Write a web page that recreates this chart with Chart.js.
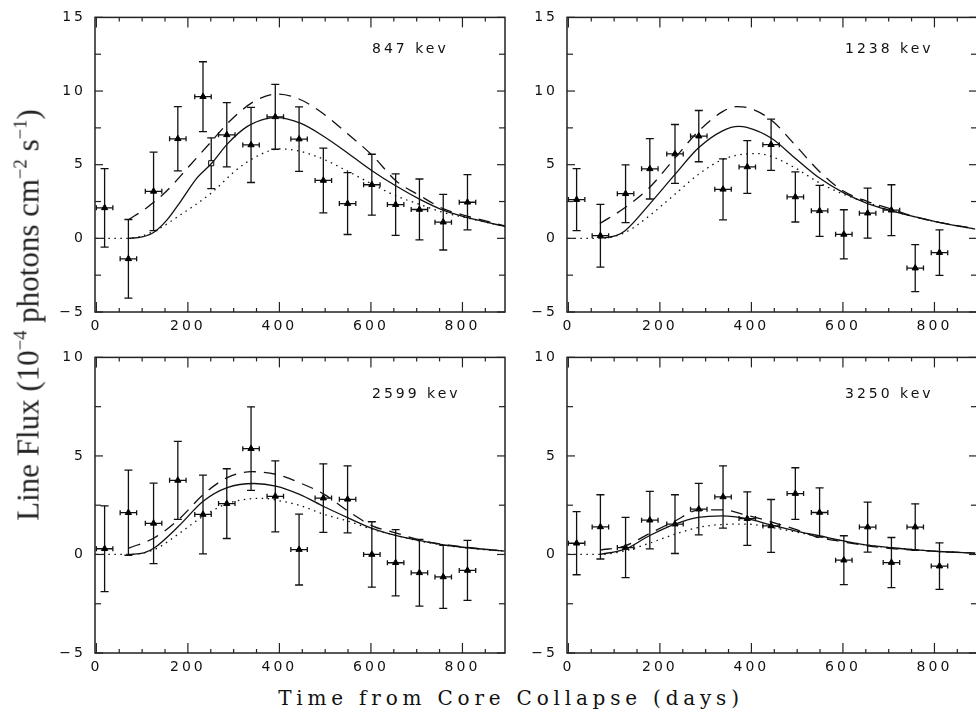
<!DOCTYPE html>
<html><head><meta charset="utf-8">
<script src="https://cdn.jsdelivr.net/npm/chart.js@4.4.0/dist/chart.umd.min.js"></script>
<style>
html,body{margin:0;padding:0;background:#fff;width:976px;height:717px;overflow:hidden;position:relative}
canvas{position:absolute;letter-spacing:3px}
.lbl{position:absolute;font-family:"DejaVu Sans";font-size:14px;letter-spacing:3px;color:#111;line-height:14px;white-space:nowrap;z-index:2}
#ytitle{position:absolute;left:30px;top:315px;transform:translate(-50%,-50%) rotate(-90deg);font-family:"Liberation Serif";font-size:31px;line-height:31px;white-space:nowrap;color:#222;z-index:2}
#ytitle sup{font-size:60%;vertical-align:0;position:relative;top:-0.65em}
#xtitle{position:absolute;left:511px;top:698px;transform:translate(-50%,-50%);font-family:"DejaVu Serif";font-size:20px;letter-spacing:4.8px;line-height:20px;white-space:nowrap;color:#111;z-index:2}
</style></head><body>
<canvas id="c1" width="480" height="340" style="left:40px;top:0px"></canvas>
<canvas id="c2" width="480" height="340" style="left:512px;top:0px"></canvas>
<canvas id="c3" width="480" height="341" style="left:40px;top:340px"></canvas>
<canvas id="c4" width="480" height="341" style="left:512px;top:340px"></canvas>
<div class="lbl" style="left:372px;top:41px">847 kev</div>
<div class="lbl" style="left:845px;top:41px">1238 kev</div>
<div class="lbl" style="left:372px;top:386px">2599 kev</div>
<div class="lbl" style="left:845px;top:386px">3250 kev</div>
<div id="ytitle">Line Flux (10<sup>−4</sup> photons cm<sup>−2</sup> s<sup>−1</sup>)</div>
<div id="xtitle">Time from Core Collapse (days)</div>
<script>
// ---- observation bins (days after core collapse) ----
const binDays = [18, 70, 125, 178, 233, 285, 338, 391, 443, 496, 549, 602, 654, 706, 758, 811];
const binHalfWidth = 18;

// ---- 847 keV ----
const flux847 = [2.07, -1.39, 3.19, 6.76, 9.62, 7.03, 6.34, 8.25, 6.74, 3.93, 2.36, 3.64, 2.29, 1.96, 1.10, 2.45];
const err847  = [2.66, 2.67, 2.66, 2.18, 2.37, 2.18, 2.55, 2.20, 2.19, 2.20, 2.10, 2.07, 2.09, 2.07, 1.89, 1.87];
const extraDay847 = [251];
const extraFlux847 = [5.1];
const extraErr847 = [1.72];
const dashDays847 = [70, 111, 153, 200, 252, 293, 345, 396, 440, 490, 549, 604, 655, 707, 759, 812, 893];
const dashVals847 = [1.26, 2.1, 3.2, 4.8, 6.6, 8.0, 9.3, 9.8, 9.5, 8.6, 7.1, 5.6, 3.9, 2.9, 2.0, 1.5, 0.85];
const solidDays847 = [70, 100, 125, 153, 184, 220, 252, 286, 330, 374, 395, 447, 498, 549, 604, 655, 707, 759, 812, 893];
const solidVals847 = [0, 0.1, 0.4, 1.2, 2.5, 4.1, 5.1, 6.4, 7.6, 8.15, 8.2, 7.8, 6.9, 5.8, 4.56, 3.55, 2.65, 1.9, 1.4, 0.8];
const dotDays847 = [0, 70, 127, 184, 252, 308, 359, 400, 447, 498, 549, 604, 655, 707, 759, 812, 893];
const dotVals847 = [0, 0, 0.5, 1.6, 3.1, 4.7, 5.7, 6.07, 5.9, 5.35, 4.56, 3.66, 2.88, 2.3, 1.75, 1.37, 0.8];

// ---- 1238 keV ----
const flux1238 = [2.63, 0.18, 3.03, 4.72, 5.73, 6.94, 3.33, 4.85, 6.36, 2.81, 1.87, 0.27, 1.71, 1.91, -2.02, -0.97];
const err1238  = [2.10, 2.13, 1.96, 2.05, 2.00, 1.74, 2.07, 1.79, 1.74, 1.70, 1.73, 1.67, 1.70, 1.73, 1.60, 1.54];
const dashDays1238 = [69, 124, 177, 233, 284, 337, 367, 390, 443, 495, 548, 601, 654, 706, 758, 810, 889];
const dashVals1238 = [1.01, 2.09, 3.44, 5.46, 7.26, 8.6, 8.94, 8.88, 8.04, 6.36, 4.56, 3.21, 2.5, 1.98, 1.46, 1.08, 0.67];
const solidDays1238 = [69, 104, 124, 177, 233, 284, 337, 372, 390, 443, 495, 548, 601, 654, 706, 758, 810, 889];
const solidVals1238 = [0, 0.18, 0.52, 2.31, 4.34, 6.13, 7.3, 7.6, 7.53, 6.81, 5.46, 4.11, 3.1, 2.36, 1.87, 1.46, 1.08, 0.63];
const dotDays1238 = [0, 69, 124, 177, 233, 284, 337, 390, 415, 443, 495, 548, 601, 654, 706, 758, 810, 889];
const dotVals1238 = [0, 0, 0.4, 1.53, 3.0, 4.34, 5.35, 5.73, 5.75, 5.57, 4.79, 3.78, 3.0, 2.43, 1.87, 1.46, 1.08, 0.63];

// ---- 2599 keV ----
const flux2599 = [0.29, 2.12, 1.58, 3.76, 2.03, 2.58, 5.37, 2.95, 0.25, 2.86, 2.80, 0.0, -0.42, -0.93, -1.14, -0.81];
const err2599  = [2.18, 2.16, 2.04, 1.98, 2.00, 1.77, 2.12, 1.80, 1.80, 1.74, 1.70, 1.66, 1.68, 1.69, 1.60, 1.52];
const dashDays2599 = [71, 127, 180, 234, 286, 339, 392, 444, 498, 550, 604, 654, 707, 759, 812, 892];
const dashVals2599 = [0.32, 0.85, 1.78, 3.05, 3.9, 4.2, 4.07, 3.64, 3.05, 2.2, 1.44, 1.1, 0.73, 0.51, 0.36, 0.17];
const solidDays2599 = [71, 104, 127, 180, 234, 286, 345, 392, 444, 498, 550, 604, 654, 707, 759, 812, 892];
const solidVals2599 = [0, 0.08, 0.34, 1.44, 2.71, 3.39, 3.6, 3.47, 3.05, 2.42, 1.86, 1.31, 0.97, 0.71, 0.49, 0.34, 0.17];
const dotDays2599 = [0, 71, 127, 180, 234, 286, 339, 365, 392, 444, 498, 550, 604, 654, 707, 759, 812, 892];
const dotVals2599 = [0, 0, 0.25, 1.05, 1.95, 2.58, 2.83, 2.85, 2.76, 2.49, 2.03, 1.69, 1.27, 0.97, 0.68, 0.47, 0.32, 0.17];

// ---- 3250 keV ----
const flux3250 = [0.57, 1.40, 0.35, 1.74, 1.54, 2.30, 2.92, 1.82, 1.45, 3.09, 2.13, -0.29, 1.39, -0.41, 1.39, -0.59];
const err3250  = [1.60, 1.63, 1.53, 1.46, 1.49, 1.31, 1.58, 1.36, 1.34, 1.31, 1.25, 1.24, 1.27, 1.27, 1.18, 1.18];
const dashDays3250 = [69, 124, 177, 233, 284, 337, 390, 443, 495, 548, 601, 654, 706, 758, 810, 889];
const dashVals3250 = [0.22, 0.44, 1.06, 1.7, 2.25, 2.26, 1.99, 1.66, 1.28, 0.86, 0.64, 0.44, 0.3, 0.22, 0.15, 0.07];
const solidDays3250 = [69, 124, 177, 233, 284, 337, 390, 443, 495, 548, 601, 654, 706, 758, 810, 889];
const solidVals3250 = [0, 0.27, 0.95, 1.54, 1.88, 1.96, 1.82, 1.5, 1.2, 0.95, 0.69, 0.47, 0.34, 0.24, 0.15, 0.07];
const dotDays3250 = [0, 69, 124, 177, 233, 284, 337, 390, 443, 495, 548, 601, 654, 706, 758, 810, 889];
const dotVals3250 = [0, 0, 0.19, 0.57, 1.03, 1.37, 1.52, 1.54, 1.37, 1.15, 0.91, 0.68, 0.47, 0.34, 0.24, 0.15, 0.07];

// ---- axes ----
const xRange = [-3, 893];
const xTickValues = [0, 200, 400, 600, 800];
const yRangeTop = [-5, 15];
const yTicksTop = [-5, 0, 5, 10, 15];
const yRangeBottom = [-5, 10];
const yTicksBottom = [-5, 0, 5, 10];

const pts = (xs, ys) => xs.map((x, i) => ({x, y: ys[i]}));

const errorBarPlugin = {
  id: 'errbars',
  beforeDatasetsDraw(chart) {
    const {ctx, scales: {x, y}, chartArea: a} = chart;
    ctx.save();
    ctx.beginPath(); ctx.rect(a.left, a.top, a.right - a.left, a.bottom - a.top); ctx.clip();
    ctx.strokeStyle = '#111'; ctx.lineWidth = 1.3;
    const seg = (x1, y1, x2, y2) => { ctx.beginPath(); ctx.moveTo(x1, y1); ctx.lineTo(x2, y2); ctx.stroke(); };
    chart.data.datasets.forEach(ds => {
      if (!ds.yErr) return;
      ds.data.forEach((p, i) => {
        const px = x.getPixelForValue(p.x), py = y.getPixelForValue(p.y);
        const t = y.getPixelForValue(p.y + ds.yErr[i]), b = y.getPixelForValue(p.y - ds.yErr[i]);
        seg(px, t, px, b); seg(px - 4, t, px + 4, t); seg(px - 4, b, px + 4, b);
        if (ds.xErr) {
          const l = x.getPixelForValue(p.x - ds.xErr), r = x.getPixelForValue(p.x + ds.xErr);
          seg(l, py, r, py); seg(l, py - 2.5, l, py + 2.5); seg(r, py - 2.5, r, py + 2.5);
        }
      });
    });
    ctx.restore();
  }
};

const framePlugin = {
  id: 'frame',
  beforeDraw(chart) { try { chart.ctx.letterSpacing = '3px'; } catch (e) {} },
  afterDraw(chart) {
    const {ctx, chartArea: a, scales: {x, y}} = chart;
    ctx.save();
    ctx.strokeStyle = '#222';
    ctx.lineWidth = 1.5;
    ctx.strokeRect(a.left, a.top, a.right - a.left, a.bottom - a.top);
    ctx.lineWidth = 1.2;
    const seg = (x1, y1, x2, y2) => { ctx.beginPath(); ctx.moveTo(x1, y1); ctx.lineTo(x2, y2); ctx.stroke(); };
    for (let v = 0; v <= x.max; v += 50) {
      const px = x.getPixelForValue(v);
      const len = v % 200 === 0 ? 10 : 4;
      seg(px, a.bottom, px, a.bottom - len);
      seg(px, a.top, px, a.top + len);
    }
    for (let v = y.min; v <= y.max + 0.01; v += 2.5) {
      const py = y.getPixelForValue(v);
      const len = Math.abs(v % 5) < 0.01 ? 8 : 6;
      seg(a.left, py, a.left + len, py);
      seg(a.right, py, a.right - len, py);
    }
    ctx.restore();
  }
};

function makePanel(id, yRange, yTicks, padTop, days, flux, err, dash, solid, dot, extra) {
  const datasets = [
    {type: 'line', data: dash, borderColor: '#111', borderWidth: 1.3, borderDash: [12, 8], pointRadius: 0, cubicInterpolationMode: 'monotone', fill: false},
    {type: 'line', data: solid, borderColor: '#111', borderWidth: 1.3, pointRadius: 0, cubicInterpolationMode: 'monotone', fill: false},
    {type: 'line', data: dot, borderColor: '#111', borderWidth: 1.3, borderDash: [1.5, 4.5], pointRadius: 0, cubicInterpolationMode: 'monotone', fill: false},
    {type: 'scatter', data: pts(days, flux), yErr: err, xErr: binHalfWidth, pointStyle: 'triangle', pointRadius: 3.6, backgroundColor: '#000', borderColor: '#000', borderWidth: 1}
  ];
  if (extra) datasets.push({type: 'scatter', data: extra.data, yErr: extra.err, pointStyle: 'rect', pointRadius: 3.6, backgroundColor: '#fff', borderColor: '#000', borderWidth: 1});
  return new Chart(document.getElementById(id), {
    data: {datasets},
    options: {
      responsive: false, animation: false, devicePixelRatio: 1,
      layout: {padding: {left: 0, right: 15, top: padTop, bottom: 0}},
      plugins: {legend: {display: false}, tooltip: {enabled: false}},
      scales: {
        x: {
          type: 'linear', min: xRange[0], max: xRange[1],
          grid: {display: false, drawTicks: false, tickLength: 0}, border: {display: false},
          afterBuildTicks: s => { s.ticks = xTickValues.map(v => ({value: v})); },
          afterFit: s => { s.height = 28; },
          ticks: {autoSkip: false, maxRotation: 0, padding: 6, color: '#111', font: {family: 'DejaVu Sans', size: 14}, callback: v => String(v)}
        },
        y: {
          type: 'linear', min: yRange[0], max: yRange[1],
          grid: {display: false, drawTicks: false, tickLength: 0}, border: {display: false},
          afterBuildTicks: s => { s.ticks = yTicks.map(v => ({value: v})); },
          afterFit: s => { s.width = 55; },
          ticks: {autoSkip: false, padding: 9, color: '#111', font: {family: 'DejaVu Sans', size: 14}, callback: v => v < 0 ? '−' + Math.abs(v) : String(v)}
        }
      }
    },
    plugins: [errorBarPlugin, framePlugin]
  });
}

makePanel('c1', yRangeTop, yTicksTop, 15, binDays, flux847, err847,
  pts(dashDays847, dashVals847), pts(solidDays847, solidVals847), pts(dotDays847, dotVals847),
  {data: pts(extraDay847, extraFlux847), err: extraErr847});
makePanel('c2', yRangeTop, yTicksTop, 15, binDays, flux1238, err1238,
  pts(dashDays1238, dashVals1238), pts(solidDays1238, solidVals1238), pts(dotDays1238, dotVals1238));
makePanel('c3', yRangeBottom, yTicksBottom, 17, binDays, flux2599, err2599,
  pts(dashDays2599, dashVals2599), pts(solidDays2599, solidVals2599), pts(dotDays2599, dotVals2599));
makePanel('c4', yRangeBottom, yTicksBottom, 17, binDays, flux3250, err3250,
  pts(dashDays3250, dashVals3250), pts(solidDays3250, solidVals3250), pts(dotDays3250, dotVals3250));
</script>
</body></html>
